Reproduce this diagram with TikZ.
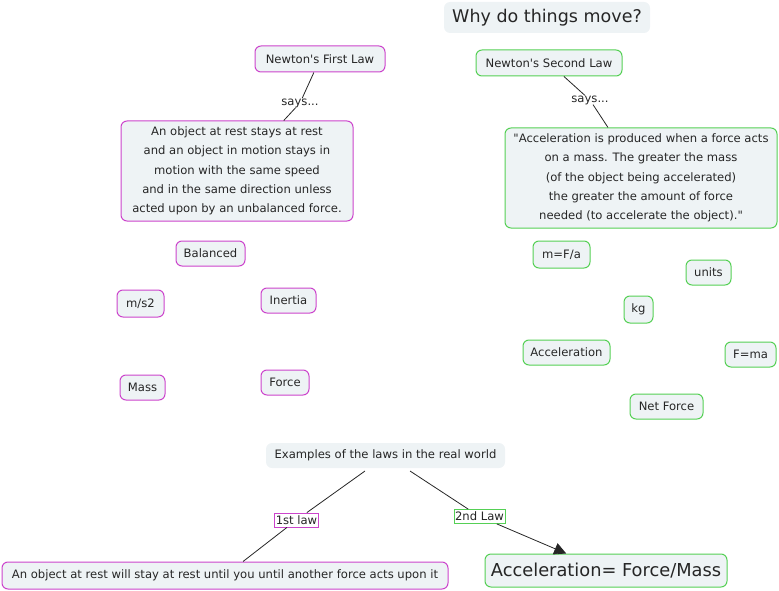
\documentclass[tikz,border=0pt]{standalone}
\usepackage{fontspec}
\setmainfont{DejaVu Sans}
\usetikzlibrary{arrows.meta}
\definecolor{mag}{HTML}{CC44CC}
\definecolor{grn}{HTML}{55D055}
\definecolor{boxfill}{HTML}{EEF3F5}
\tikzset{
  base/.style={fill=boxfill, rounded corners=6pt, inner sep=0pt, align=center, font=\fontsize{11.6}{19.3}\selectfont, text=black!85},
  magbox/.style={base, draw=mag, line width=1pt},
  grnbox/.style={base, draw=grn, line width=1pt},
  plainbox/.style={base, draw=none},
  lbl/.style={inner sep=0pt, fill=white, font=\fontsize{11.6}{12}\selectfont, text=black!85},
  maglbl/.style={draw=mag, line width=0.8pt, inner sep=1pt, fill=white, font=\fontsize{11.6}{12}\selectfont, text=black!85, minimum height=14pt},
  grnlbl/.style={draw=grn, line width=0.8pt, inner sep=1pt, fill=white, font=\fontsize{11.6}{12}\selectfont, text=black!85, minimum height=14pt},
  conn/.style={draw=black!85, line width=0.8pt}
}
\begin{document}
\begin{tikzpicture}[x=1pt,y=-1pt]
\useasboundingbox (0,0) rectangle (779,591);
% title
\node[plainbox, minimum width=206pt, minimum height=31pt, font=\fontsize{17.5}{20}\selectfont] (title) at (547,17.5) {Why do things move?};
% left
\node[magbox, minimum width=130pt, minimum height=26pt] (first) at (320,59) {Newton\textquotesingle s First Law};
\node[lbl] (says1) at (300,103) {says...};
\node[magbox, minimum width=232pt, minimum height=100pt] (firstbox) at (237,171) {An object at rest stays at rest\\and an object in motion stays in\\motion with the same speed\\and in the same direction unless\\acted upon by an unbalanced force.};
\draw[conn] (first) -- (says1);
\draw[conn] (says1) -- (firstbox);
% right
\node[grnbox, minimum width=146pt, minimum height=26pt] (second) at (549,63) {Newton\textquotesingle s Second Law};
\node[lbl] (says2) at (590,100) {says...};
\node[grnbox, minimum width=272pt, minimum height=100pt] (secondbox) at (641,178) {\textquotedbl Acceleration is produced when a force acts\\on a mass. The greater the mass\\(of the object being accelerated)\\the greater the amount of force\\needed (to accelerate the object).\textquotedbl};
\draw[conn] (second) -- (says2);
\draw[conn] (says2) -- (secondbox);
% left concepts
\node[magbox, minimum width=69pt, minimum height=25pt] (balanced) at (210.5,253.5) {Balanced};
\node[magbox, minimum width=47pt, minimum height=27pt] (ms2) at (140.5,303.5) {m/s2};
\node[magbox, minimum width=55pt, minimum height=25pt] (inertia) at (288.5,300.5) {Inertia};
\node[magbox, minimum width=45pt, minimum height=25pt] (mass) at (142.5,387.5) {Mass};
\node[magbox, minimum width=48pt, minimum height=25pt] (force) at (285,382.5) {Force};
% right concepts
\node[grnbox, minimum width=57pt, minimum height=27pt] (mfa) at (561.5,254.5) {m=F/a};
\node[grnbox, minimum width=45pt, minimum height=25pt] (units) at (708.5,272.5) {units};
\node[grnbox, minimum width=29pt, minimum height=27pt] (kg) at (638.5,309.5) {kg};
\node[grnbox, minimum width=87pt, minimum height=25pt] (accel) at (566.5,352.5) {Acceleration};
\node[grnbox, minimum width=51pt, minimum height=25pt] (fma) at (750.5,354.5) {F=ma};
\node[grnbox, minimum width=73pt, minimum height=25pt] (netforce) at (666.5,406.5) {Net Force};
% examples
\node[plainbox, minimum width=239pt, minimum height=25pt] (examples) at (385.5,455.5) {Examples of the laws in the real world};
\node[maglbl] (law1) at (296.5,520) {1st law};
\node[grnlbl] (law2) at (479.5,516.5) {2nd Law};
\node[magbox, minimum width=446pt, minimum height=27pt] (restbox) at (225,575.5) {An object at rest will stay at rest until you until another force acts upon it};
\node[grnbox, minimum width=242pt, minimum height=33pt, font=\fontsize{17.8}{20}\selectfont] (afm) at (606,570.5) {Acceleration= Force/Mass};
\coordinate (e1) at (365,471);
\coordinate (e2) at (410,471);
\draw[conn] (e1) -- (law1);
\draw[conn] (law1) -- (restbox);
\draw[conn] (e2) -- (law2);
\draw[conn, -{Triangle[length=12pt,width=12pt]}] (law2) -- (afm);
\end{tikzpicture}
\end{document}
